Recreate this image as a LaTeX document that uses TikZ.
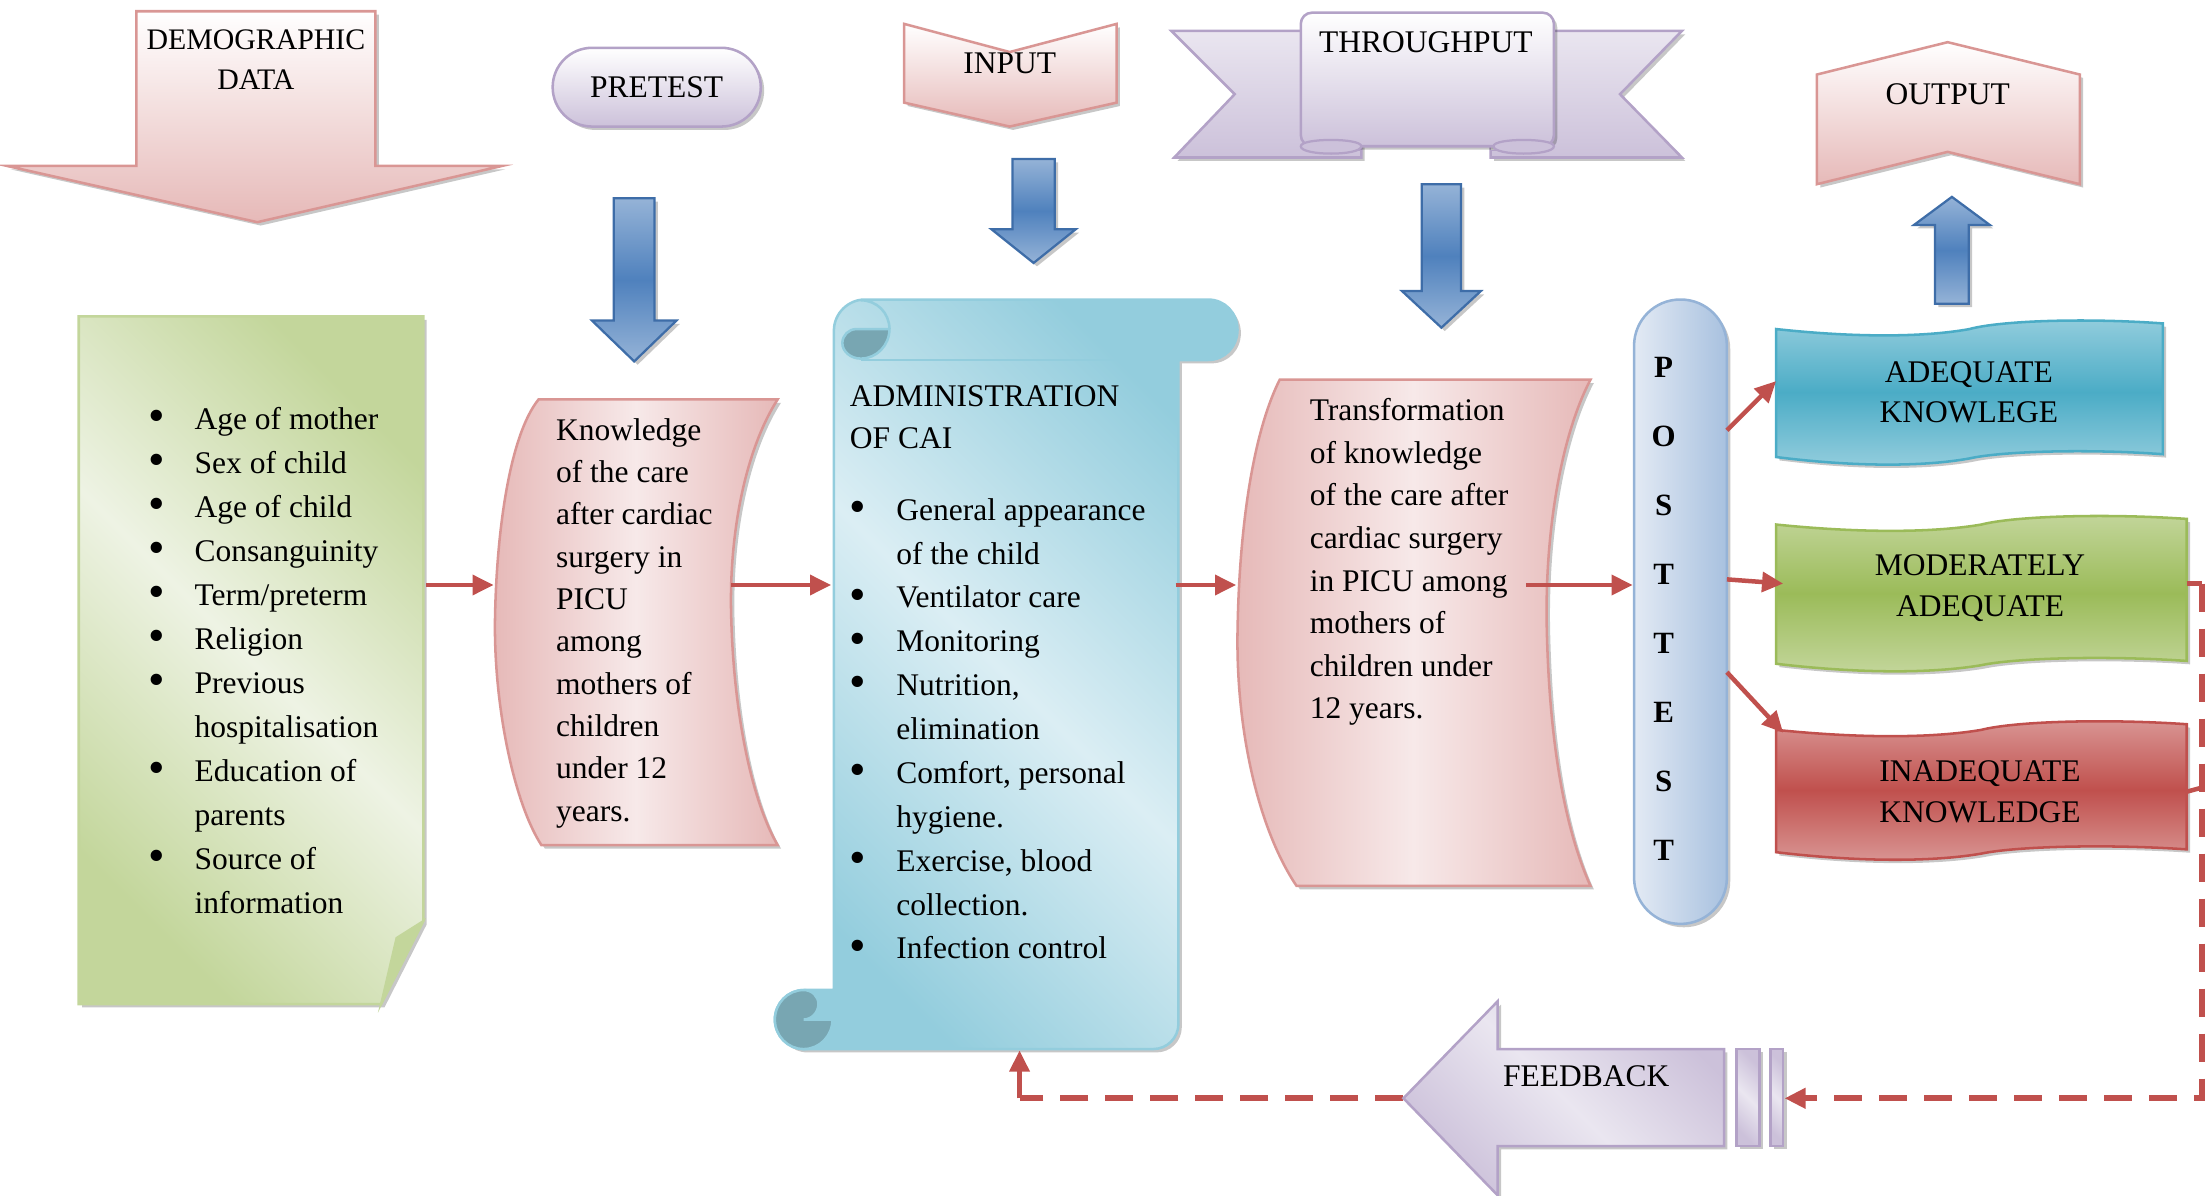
\documentclass[tikz,border=0pt]{standalone}
\usepackage{fontspec}
\setmainfont{Liberation Serif}
\usetikzlibrary{shadows,arrows.meta}

\definecolor{pinkB}{HTML}{D99694}
\definecolor{pinkF}{HTML}{E6B9B8}
\definecolor{pinkL}{HTML}{F7E9E9}
\definecolor{lavB}{HTML}{B3A2C7}
\definecolor{lavF}{HTML}{CCC1DA}
\definecolor{lavL}{HTML}{EAE6F0}
\definecolor{blueM}{HTML}{4F81BD}
\definecolor{blueL}{HTML}{95B3D7}
\definecolor{blueB}{HTML}{3E6DA8}
\definecolor{tealM}{HTML}{4BACC6}
\definecolor{tealF}{HTML}{93CDDD}
\definecolor{tealL}{HTML}{DBEEF4}
\definecolor{tealD}{HTML}{78A6B2}
\definecolor{greenM}{HTML}{9BBB59}
\definecolor{greenF}{HTML}{C3D69B}
\definecolor{greenL}{HTML}{EEF3E4}
\definecolor{redM}{HTML}{C0504D}
\definecolor{redF}{HTML}{D99694}
\definecolor{postL}{HTML}{E3EAF4}
\definecolor{postF}{HTML}{A8C1DF}

\tikzset{
 shd/.style={drop shadow={shadow xshift=1.2pt,shadow yshift=-1.2pt,fill=black,opacity=0.22}},
 pinkshape/.style={draw=pinkB,line width=0.9pt,top color=white,bottom color=pinkF,shd},
 lavshape/.style={draw=lavB,line width=0.9pt,top color=white,bottom color=lavF,shd},
 lavwing/.style={draw=lavB,line width=0.9pt,top color=lavL,bottom color=lavF,shd},
 bluearr/.style={draw=blueB,line width=0.8pt,top color=blueL,bottom color=blueL,middle color=blueM,shd},
 greennote/.style={draw=greenF,line width=0.9pt,top color=greenF,bottom color=greenF,middle color=greenL,shading angle=-45,shd},
 pinkwave/.style={draw=pinkB,line width=0.9pt,left color=pinkF,right color=pinkF,middle color=pinkL,shd},
 scrollshape/.style={draw=tealF,line width=0.9pt,top color=tealF,bottom color=tealF,middle color=tealL,shading angle=-45,shd},
 postshape/.style={draw=blueL,line width=0.9pt,left color=postL,right color=postF,shd},
 fbshape/.style={draw=lavB,line width=0.9pt,top color=lavF,bottom color=lavF,middle color=lavL,shading angle=-45,shd},
 txt/.style={inner sep=0pt,font=\fontsize{11.2}{14.5}\selectfont},
 redarr/.style={draw=redM,line width=1.6pt,-{Triangle[length=7.5pt,width=7pt]}},
 redline/.style={draw=redM,line width=1.6pt},
 reddash/.style={draw=redM,line width=2pt,dash pattern=on 10pt off 6pt},
}
\newcommand{\bluearrow}[6]{\draw[bluearr] ({#1-#2},#4) -- ({#1+#2},#4) -- ({#1+#2},#5) -- ({#1+#3},#5) -- (#1,#6) -- ({#1-#3},#5) -- ({#1-#2},#5) -- cycle;}
\newcommand{\mywave}[5]{\draw[#5] (#1,{#2+8}) .. controls ({#1+0.2*(#3-#1)},{#2+14}) and ({#1+0.38*(#3-#1)},{#2+14}) .. ({#1+0.5*(#3-#1)},{#2+8}) .. controls ({#1+0.58*(#3-#1)},{#2+2}) and ({#1+0.8*(#3-#1)},{#2}) .. (#3,{#2+4}) -- (#3,{#4-8}) .. controls ({#1+0.8*(#3-#1)},{#4-12}) and ({#1+0.58*(#3-#1)},{#4-10}) .. ({#1+0.5*(#3-#1)},{#4-5}) .. controls ({#1+0.38*(#3-#1)},{#4+1}) and ({#1+0.2*(#3-#1)},{#4+1}) .. (#1,{#4-6}) -- cycle;}
\newcommand{\bul}{\makebox[16.5pt][l]{\raisebox{-0.8pt}{\scalebox{1.5}{\textbullet}}}}
\newcommand{\nobul}{\makebox[16.5pt][l]{}}

\begin{document}
\begin{tikzpicture}[x=0.5pt,y=-0.5pt]
\useasboundingbox (0,0) rectangle (1568,850);

% ---------- headers ----------
\draw[pinkshape] (97,8) -- (267,8) -- (267,118) -- (357,118) -- (183,158) -- (5,118) -- (97,118) -- cycle;
\node[txt,align=center,font=\fontsize{10.6}{14.5}\selectfont] (demo) at (182,42.5) {DEMOGRAPHIC\\DATA};

\node[lavshape,rounded corners=14pt,minimum width=74pt,minimum height=28pt,txt] (pretest) at (467,62) {PRETEST};

\draw[pinkshape] (643,17) -- (718,37) -- (794,17) -- (794,73) -- (718,90) -- (643,73) -- cycle;
\node[txt] (input) at (718,45) {INPUT};

\draw[lavwing] (833,22) -- (930,22) -- (930,100) -- (968,100) -- (968,112) -- (835,112) -- (878,67) -- cycle;
\draw[lavwing] (1196,22) -- (1100,22) -- (1100,100) -- (1060,100) -- (1060,112) -- (1196,112) -- (1152,67) -- cycle;
\draw[lavB,line width=0.6pt,fill=gray!30] (940,101) rectangle (968,107);
\draw[lavB,line width=0.6pt,fill=gray!30] (1060,101) rectangle (1088,107);
\draw[lavshape,rounded corners=4pt] (925,9) rectangle (1105,104);
\draw[lavB,line width=0.8pt,fill=lavF] (925,104) .. controls (925,111) and (968,111) .. (968,104) .. controls (968,98) and (925,98) .. cycle;
\draw[lavB,line width=0.8pt,fill=lavF] (1062,104) .. controls (1062,111) and (1105,111) .. (1105,104) .. controls (1105,98) and (1062,98) .. cycle;
\node[txt] (through) at (1014,30) {THROUGHPUT};

\draw[pinkshape] (1292,53) -- (1385,30) -- (1479,53) -- (1479,131) -- (1385,108) -- (1292,131) -- cycle;
\node[txt] (output) at (1385,67) {OUTPUT};

% ---------- blue arrows ----------
\bluearrow{451}{14.5}{30}{141}{228}{257}
\bluearrow{735}{15}{30}{113}{163}{187}
\bluearrow{1025}{14}{28}{131}{207}{233}
\bluearrow{1388}{12}{27}{216}{160}{140}

% ---------- demographic note ----------
\draw[greennote] (56,225) -- (301,225) -- (301,655) -- (271,714) -- (56,714) -- cycle;
\draw[greenF,line width=0.8pt,fill=greenM!60] (301,655) -- (282,667) -- (271,714) -- cycle;
\node[inner sep=0pt,anchor=north west,align=left,font=\fontsize{11.2}{15.65}\selectfont] (demolist) at (105,289) {%
\bul Age of mother\\
\bul Sex of child\\
\bul Age of child\\
\bul Consanguinity\\
\bul Term/preterm\\
\bul Religion\\
\bul Previous\\
\nobul hospitalisation\\
\bul Education of\\
\nobul parents\\
\bul Source of\\
\nobul information};

% ---------- knowledge (pretest) ----------
\draw[pinkwave] (383,284) -- (553,284) .. controls (530,320) and (518,380) .. (520,440) .. controls (522,510) and (535,570) .. (553,601) -- (385,601) .. controls (365,570) and (351,500) .. (352,440) .. controls (353,380) and (362,310) .. (383,284) -- cycle;
\node[inner sep=0pt,anchor=north west,align=left,font=\fontsize{11.2}{15.05}\selectfont] (know) at (395,297) {Knowledge\\of the care\\after cardiac\\surgery in\\PICU\\among\\mothers of\\children\\under 12\\years.};

% ---------- scroll ----------
\draw[scrollshape] (593,235) .. controls (593,223) and (603,213) .. (615,213) -- (859,213) .. controls (871,213) and (880,222.5) .. (880,234.5) .. controls (880,246.5) and (871,256) .. (859,256) -- (838,256) -- (838,728) .. controls (838,738) and (830,746) .. (820,746) -- (572,746) .. controls (560.5,746) and (551,736.5) .. (551,725) .. controls (551,713.5) and (560.5,704) .. (572,704) -- (593,704) -- cycle;
\draw[tealF,line width=0.9pt] (612,256) -- (838,256);
\draw[tealF,line width=0.9pt,fill=tealD] (632.5,234) .. controls (632.5,245.5) and (623.5,255) .. (612,255) .. controls (605,255) and (599,250) .. (599,244) .. controls (599,238.5) and (603.5,234) .. (609,234) -- cycle;
\draw[tealF,line width=0.9pt] (612,213.5) .. controls (623.5,213.5) and (632.5,222.5) .. (632.5,234);
\draw[tealF,line width=0.9pt,fill=tealD] (592,725) .. controls (592,736.5) and (583,746) .. (571.5,746) .. controls (560,746) and (551,736.5) .. (551,725) .. controls (551,713.5) and (560,704) .. (571.5,704) .. controls (577.5,704) and (582,708.5) .. (582,714) .. controls (582,719.5) and (577.5,725) .. (571.5,725) -- cycle;
\node[inner sep=0pt,anchor=north west,align=left,font=\fontsize{11.2}{15}\selectfont] (admin) at (604,274) {ADMINISTRATION\\OF CAI};
\node[inner sep=0pt,anchor=north west,align=left,font=\fontsize{11.2}{15.6}\selectfont] (adminlist) at (604,354) {%
\bul General appearance\\
\nobul of the child\\
\bul Ventilator care\\
\bul Monitoring\\
\bul Nutrition,\\
\nobul elimination\\
\bul Comfort, personal\\
\nobul hygiene.\\
\bul Exercise, blood\\
\nobul collection.\\
\bul Infection control};

% ---------- transformation ----------
\draw[pinkwave] (910,270) -- (1131,270) .. controls (1110,310) and (1098,380) .. (1100,450) .. controls (1102,530) and (1113,590) .. (1131,630) -- (922,630) .. controls (895,590) and (879,520) .. (880,450) .. controls (881,380) and (890,310) .. (910,270) -- cycle;
\node[inner sep=0pt,anchor=north west,align=left,font=\fontsize{11.2}{15.15}\selectfont] (trans) at (931,283) {Transformation\\of knowledge\\of the care after\\cardiac surgery\\in PICU among\\mothers of\\children under\\12 years.};

% ---------- posttest ----------
\node[postshape,minimum width=33pt,minimum height=222pt,rounded corners=16.4pt,inner sep=0pt] (post) at (1195,435) {};
\node[inner sep=0pt,align=center,font=\fontsize{11}{24.5}\selectfont\bfseries] (postL) at (1183,433) {P\\O\\S\\T\\T\\E\\S\\T};

% ---------- result banners ----------
\mywave{1263}{226}{1538}{331}{draw=tealM,line width=0.9pt,top color=tealF,bottom color=tealF,middle color=tealM,shd}
\node[txt,align=center] (adeq) at (1400,279) {ADEQUATE\\KNOWLEGE};
\mywave{1263}{365}{1555}{478}{draw=greenM,line width=0.9pt,top color=greenF,bottom color=greenF,middle color=greenM,shd}
\node[txt,align=center] (mod) at (1408,418) {MODERATELY\\ADEQUATE};
\mywave{1263}{511}{1555}{612}{draw=redM,line width=0.9pt,top color=redF,bottom color=redF,middle color=redM,shd}
\node[txt,align=center] (inad) at (1408,563) {INADEQUATE\\KNOWLEDGE};

% ---------- feedback ----------
\coordinate (rtop) at (1566,415);
\coordinate (rmid) at (1566,560);
\coordinate (rbot) at (1566,781);
\coordinate (fbR) at (1269,781);
\coordinate (fbTip) at (998,781);
\coordinate (foot) at (725,781);
\coordinate (scrollS) at (725,747);
\draw[reddash] (fbTip) -- (foot);
\draw[fbshape] (998,781) -- (1065,712) -- (1065,746) -- (1226,746) -- (1226,815) -- (1065,815) -- (1065,850) -- cycle;
\draw[fbshape] (1235,746) rectangle (1251,815);
\draw[fbshape] (1259,746) rectangle (1268,815);
\node[txt] (fb) at (1128,765) {FEEDBACK};

% ---------- connectors ----------
\coordinate (demoE) at (303,416);
\coordinate (knowW) at (351,416);
\coordinate (knowE) at (520,416);
\coordinate (scrW) at (591,416);
\coordinate (scrE) at (836,416);
\coordinate (transW) at (879,416);
\coordinate (transE) at (1085,416);
\coordinate (postW) at (1161,416);
\coordinate (postA) at (1228,306);
\coordinate (adeqW) at (1263,271);
\coordinate (postB) at (1228,412);
\coordinate (modW) at (1268,415);
\coordinate (postC) at (1228,478);
\coordinate (inadW) at (1268,521);
\coordinate (modE) at (1555,415);
\coordinate (inadE) at (1555,563);

\draw[redarr] (demoE) -- (knowW);
\draw[redarr] (knowE) -- (scrW);
\draw[redarr] (scrE) -- (transW);
\draw[redarr] (transE) -- (postW);
\draw[redarr] (postA) -- (adeqW);
\draw[redarr] (postB) -- (modW);
\draw[redarr] (postC) -- (inadW);
\draw[redline] (modE) -- (rtop);
\draw[redline] (inadE) -- (rmid);
\draw[reddash,-{Triangle[length=7.5pt,width=7pt]}] (rtop) -- (rbot) -- (fbR);
\draw[redarr] (foot) -- (scrollS);
\end{tikzpicture}
\end{document}
